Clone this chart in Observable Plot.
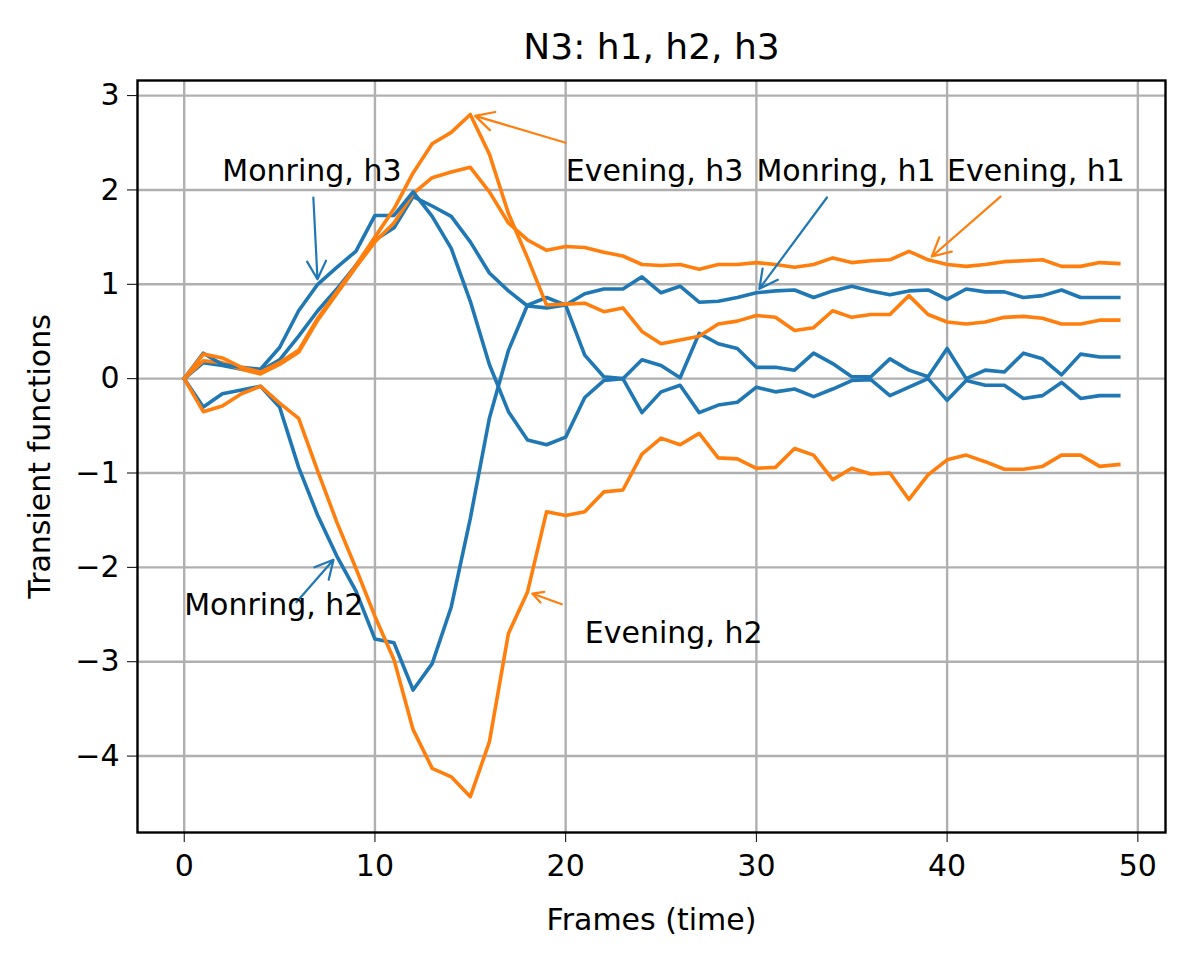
<!DOCTYPE html>
<html>
<head>
<meta charset="utf-8">
<script src="https://cdn.jsdelivr.net/npm/d3@7"></script>
<script src="https://cdn.jsdelivr.net/npm/@observablehq/plot@0.6"></script>
<style>
  html, body { margin: 0; padding: 0; background: #fff; }
  #chart svg { display: block; }
</style>
</head>
<body>
<div id="chart"></div>
<script>
// ---- data (frames 0..49) ----
const frames = d3.range(50);

const morningH1 = [0, 0.17, 0.14, 0.10, 0.08, 0.20, 0.45, 0.72, 0.95, 1.20,
  1.47, 1.60, 1.93, 1.83, 1.72, 1.45, 1.12, 0.93, 0.77, 0.75,
  0.78, 0.90, 0.95, 0.95, 1.08, 0.91, 0.98, 0.81, 0.82, 0.86,
  0.91, 0.93, 0.94, 0.86, 0.93, 0.98, 0.93, 0.89, 0.93, 0.94,
  0.84, 0.95, 0.92, 0.92, 0.86, 0.88, 0.94, 0.86, 0.86, 0.86];

const morningH2 = [0, -0.30, -0.16, -0.12, -0.08, -0.30, -0.94, -1.45, -1.88, -2.25,
  -2.76, -2.80, -3.30, -3.02, -2.42, -1.48, -0.42, 0.30, 0.78, 0.86,
  0.78, 0.25, 0.02, 0.00, 0.20, 0.14, 0.01, 0.48, 0.37, 0.32,
  0.12, 0.12, 0.09, 0.27, 0.16, 0.02, 0.02, 0.21, 0.09, 0.02,
  0.32, 0.00, 0.09, 0.07, 0.27, 0.21, 0.04, 0.26, 0.23, 0.23];

const morningH3 = [0, 0.27, 0.15, 0.12, 0.10, 0.33, 0.72, 1.00, 1.18, 1.35,
  1.73, 1.73, 1.98, 1.72, 1.38, 0.82, 0.15, -0.35, -0.65, -0.70,
  -0.62, -0.20, -0.02, 0.00, -0.36, -0.14, -0.07, -0.36, -0.28, -0.25,
  -0.09, -0.14, -0.11, -0.19, -0.11, -0.02, -0.01, -0.18, -0.09, 0.00,
  -0.23, -0.02, -0.07, -0.07, -0.21, -0.18, -0.04, -0.21, -0.18, -0.18];

const eveningH1 = [0, 0.19, 0.17, 0.10, 0.05, 0.15, 0.28, 0.62, 0.90, 1.18,
  1.45, 1.65, 1.96, 2.13, 2.19, 2.24, 1.98, 1.65, 1.47, 1.36,
  1.40, 1.39, 1.34, 1.30, 1.21, 1.20, 1.21, 1.16, 1.21, 1.21,
  1.23, 1.21, 1.18, 1.21, 1.28, 1.23, 1.25, 1.26, 1.35, 1.26,
  1.21, 1.19, 1.21, 1.24, 1.25, 1.26, 1.19, 1.19, 1.23, 1.22];

const eveningH2 = [0, -0.35, -0.29, -0.16, -0.08, -0.26, -0.42, -0.98, -1.52, -2.01,
  -2.52, -2.98, -3.72, -4.13, -4.22, -4.43, -3.85, -2.70, -2.26, -1.41,
  -1.45, -1.41, -1.20, -1.18, -0.80, -0.63, -0.70, -0.58, -0.84, -0.85,
  -0.95, -0.94, -0.74, -0.81, -1.07, -0.95, -1.01, -1.00, -1.28, -1.02,
  -0.86, -0.81, -0.88, -0.96, -0.96, -0.93, -0.81, -0.81, -0.93, -0.91];

const eveningH3 = [0, 0.26, 0.22, 0.12, 0.07, 0.17, 0.30, 0.64, 0.92, 1.20,
  1.50, 1.80, 2.18, 2.49, 2.61, 2.80, 2.38, 1.75, 1.28, 0.78,
  0.79, 0.80, 0.71, 0.75, 0.50, 0.37, 0.41, 0.45, 0.58, 0.61,
  0.67, 0.65, 0.51, 0.54, 0.72, 0.65, 0.68, 0.68, 0.88, 0.68,
  0.60, 0.58, 0.60, 0.65, 0.66, 0.64, 0.58, 0.58, 0.62, 0.62];

const seriesNames = ["Morning h1", "Evening h1", "Morning h2", "Evening h2", "Morning h3", "Evening h3"];
const seriesValues = [morningH1, eveningH1, morningH2, eveningH2, morningH3, eveningH3];
const seriesColors = ["#1f77b4", "#ff7f0e", "#1f77b4", "#ff7f0e", "#1f77b4", "#ff7f0e"];

const xTicks = [0, 10, 20, 30, 40, 50];
const yTicks = [-4, -3, -2, -1, 0, 1, 2, 3];

// annotations: label, text anchor (left/baseline), arrow tail, target point
const annLabels = ["Monring, h3", "Evening, h3", "Monring, h1", "Evening, h1", "Monring, h2", "Evening, h2"];
const annTextX = [2, 20, 30, 40, 0, 21];
const annTextY = [2.1, 2.1, 2.1, 2.1, -2.5, -2.8];
const annTailX = [6.77, 20.0, 33.7, 42.8, 5.88, 19.8];
const annTailY = [1.92, 2.5, 1.92, 1.93, -2.37, -2.39];
const annPointX = [7, 15, 30, 39, 8, 18];
const annPointY = [morningH3[7], eveningH3[15], morningH1[30], eveningH1[39], morningH2[8], eveningH2[18]];
const annColors = ["#1f77b4", "#ff7f0e", "#1f77b4", "#ff7f0e", "#1f77b4", "#ff7f0e"];

const titleText = "N3: h1, h2, h3";
const xLabel = "Frames (time)";
const yLabel = "Transient functions";

// ---- build tables ----
const rows = [];
seriesNames.forEach((name, i) => {
  frames.forEach((f, j) => rows.push({series: name, color: seriesColors[i], frame: f, value: seriesValues[i][j]}));
});
const ann = annLabels.map((label, i) => ({
  label, tx: annTextX[i], ty: annTextY[i],
  x1: annTailX[i], y1: annTailY[i], x2: annPointX[i], y2: annPointY[i], color: annColors[i]
}));

const font = "DejaVu Sans";
const fmt = d => (d < 0 ? "\u2212" + Math.abs(d) : String(d));

const chart = Plot.plot({
  width: 1200,
  height: 969,
  marginLeft: 137,
  marginRight: 35,
  marginTop: 80,
  marginBottom: 137,
  style: {fontFamily: font, fontSize: "30px", color: "#000", background: "#fff"},
  x: {domain: [-2.45, 51.45]},
  y: {domain: [-4.81, 3.16]},
  marks: [
    Plot.gridX(xTicks, {stroke: "#b0b0b0", strokeOpacity: 1, strokeWidth: 2.4}),
    Plot.gridY(yTicks, {stroke: "#b0b0b0", strokeOpacity: 1, strokeWidth: 2.4}),
    ...seriesNames.map((name) =>
      Plot.line(rows.filter(d => d.series === name), {
        x: "frame", y: "value", stroke: "color", strokeWidth: 3.6,
        strokeLinejoin: "round", strokeLinecap: "square"
      })
    ),
    Plot.arrow(ann, {x1: "x1", y1: "y1", x2: "x2", y2: "y2", stroke: "color",
      strokeWidth: 2.2, headLength: 14, headAngle: 55, insetEnd: 5}),
    Plot.text(ann, {x: "tx", y: "ty", text: "label", textAnchor: "start", lineAnchor: "bottom",
      fill: "#000", fontSize: 30}),
    Plot.frame({stroke: "#000", strokeWidth: 2.4}),
    Plot.axisX(xTicks, {tickSize: 10, tickPadding: 12, tickWidth: 2.4, fontSize: 30, label: null, stroke: "#000", tickFormat: fmt}),
    Plot.axisY(yTicks, {tickSize: 10, tickPadding: 8, tickWidth: 2.4, fontSize: 30, label: null, stroke: "#000", tickFormat: fmt}),
    Plot.text([titleText], {frameAnchor: "top", dy: -33, lineAnchor: "middle", fontSize: 36, fill: "#000"}),
    Plot.text([xLabel], {frameAnchor: "bottom", dy: 88, lineAnchor: "middle", fontSize: 30, fill: "#000"}),
    Plot.text([yLabel], {frameAnchor: "left", dx: -97, rotate: -90, textAnchor: "middle", lineAnchor: "middle", fontSize: 30, fill: "#000"})
  ]
});
document.getElementById("chart").append(chart);
</script>
</body>
</html>
